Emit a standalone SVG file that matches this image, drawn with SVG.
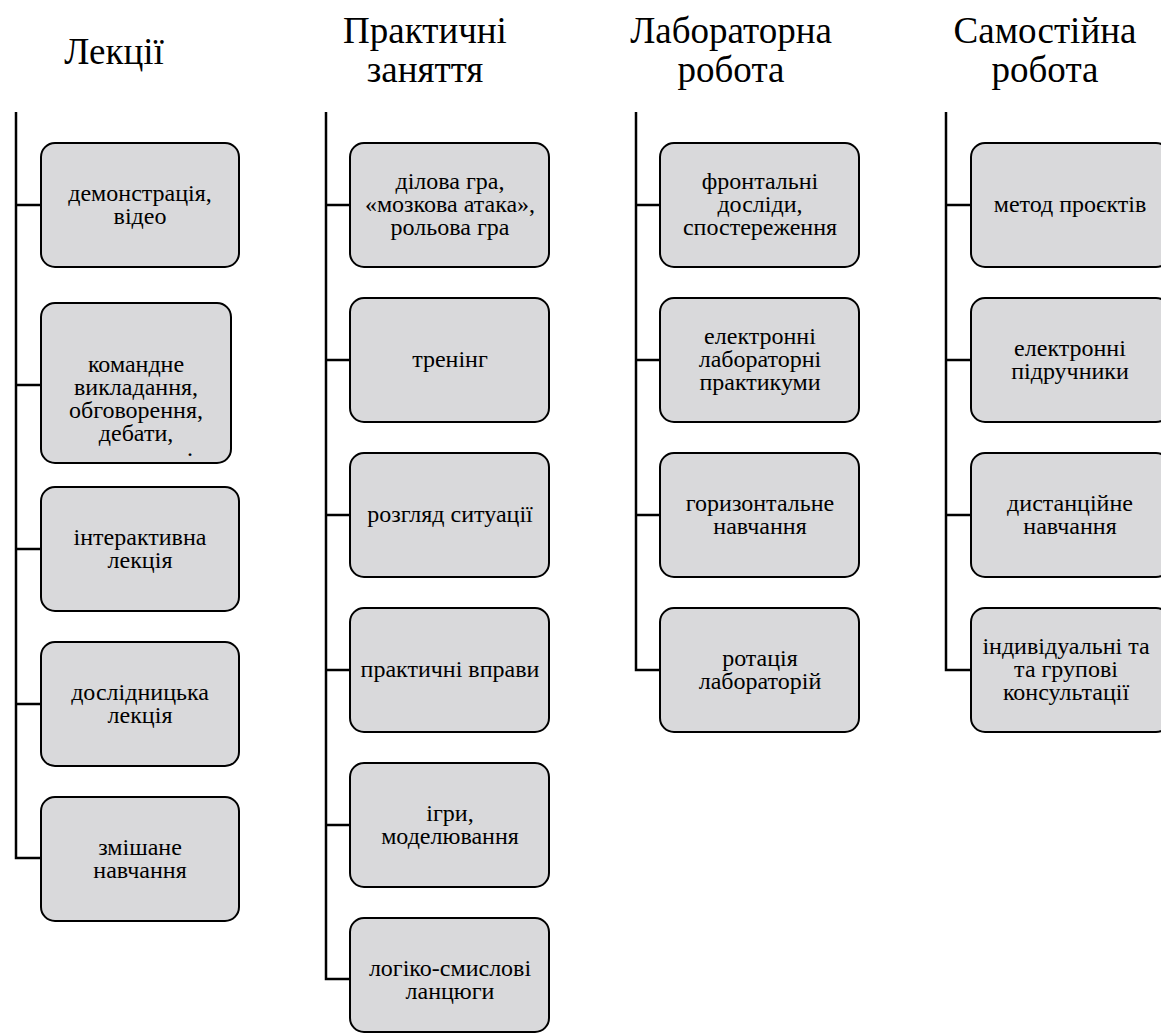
<svg xmlns="http://www.w3.org/2000/svg" width="1161" height="1036" viewBox="0 0 1161 1036">
<style>
.hd{font-family:'Liberation Serif',Tinos,'Times New Roman','DejaVu Serif',serif;font-size:37px;fill:#000;text-anchor:middle}
.bx{fill:#d9d9db;stroke:#000;stroke-width:2}
.tx{font-family:'Liberation Serif',Tinos,'Times New Roman','DejaVu Serif',serif;font-size:24px;fill:#000;text-anchor:middle}
.ln{fill:none;stroke:#000;stroke-width:2.5}
</style>
<rect width="1161" height="1036" fill="#fff"/>
<g id="headers">
<text class="hd" x="114" y="64">Лекції</text>
<text class="hd" x="425" y="43">Практичні</text>
<text class="hd" x="425" y="82">заняття</text>
<text class="hd" x="731" y="43">Лабораторна</text>
<text class="hd" x="731" y="82">робота</text>
<text class="hd" x="1045" y="43">Самостійна</text>
<text class="hd" x="1045" y="82">робота</text>
</g>
<g id="connectors">
<path class="ln" d="M16 112V858H41M16 205H41M16 385H41M16 549H41M16 704H41"/>
<path class="ln" d="M326 112V979H350M326 205H350M326 360H350M326 515H350M326 670H350M326 825H350"/>
<path class="ln" d="M636 112V670H660M636 205H660M636 360H660M636 515H660"/>
<path class="ln" d="M946 112V670H971M946 205H971M946 360H971M946 515H971"/>
</g>
<g id="n1"><rect class="bx" x="41" y="143" width="198" height="124" rx="14"/><text class="tx" x="140" y="201">демонстрація,</text><text class="tx" x="140" y="224">відео</text></g>
<g id="n2"><rect class="bx" x="41" y="303" width="190" height="160" rx="14"/><text class="tx" x="136" y="372">командне</text><text class="tx" x="136" y="395">викладання,</text><text class="tx" x="136" y="418">обговорення,</text><text class="tx" x="136" y="441">дебати,</text><text class="tx" x="190" y="456">.</text></g>
<g id="n3"><rect class="bx" x="41" y="487" width="198" height="124" rx="14"/><text class="tx" x="140" y="545">інтерактивна</text><text class="tx" x="140" y="568">лекція</text></g>
<g id="n4"><rect class="bx" x="41" y="642" width="198" height="124" rx="14"/><text class="tx" x="140" y="700">дослідницька</text><text class="tx" x="140" y="723">лекція</text></g>
<g id="n5"><rect class="bx" x="41" y="797" width="198" height="124" rx="14"/><text class="tx" x="140" y="855">змішане</text><text class="tx" x="140" y="878">навчання</text></g>
<g id="p1"><rect class="bx" x="350" y="143" width="199" height="124" rx="14"/><text class="tx" x="450" y="189">ділова гра,</text><text class="tx" x="450" y="212">«мозкова атака»,</text><text class="tx" x="450" y="235">рольова гра</text></g>
<g id="p2"><rect class="bx" x="350" y="298" width="199" height="124" rx="14"/><text class="tx" x="450" y="367">тренінг</text></g>
<g id="p3"><rect class="bx" x="350" y="453" width="199" height="124" rx="14"/><text class="tx" x="450" y="522">розгляд ситуації</text></g>
<g id="p4"><rect class="bx" x="350" y="608" width="199" height="124" rx="14"/><text class="tx" x="450" y="677">практичні вправи</text></g>
<g id="p5"><rect class="bx" x="350" y="763" width="199" height="124" rx="14"/><text class="tx" x="450" y="821">ігри,</text><text class="tx" x="450" y="844">моделювання</text></g>
<g id="p6"><rect class="bx" x="350" y="918" width="199" height="114" rx="14"/><text class="tx" x="450" y="976">логіко-смислові</text><text class="tx" x="450" y="999">ланцюги</text></g>
<g id="l1"><rect class="bx" x="660" y="143" width="199" height="124" rx="14"/><text class="tx" x="760" y="189">фронтальні</text><text class="tx" x="760" y="212">досліди,</text><text class="tx" x="760" y="235">спостереження</text></g>
<g id="l2"><rect class="bx" x="660" y="298" width="199" height="124" rx="14"/><text class="tx" x="760" y="344">електронні</text><text class="tx" x="760" y="367">лабораторні</text><text class="tx" x="760" y="390">практикуми</text></g>
<g id="l3"><rect class="bx" x="660" y="453" width="199" height="124" rx="14"/><text class="tx" x="760" y="511">горизонтальне</text><text class="tx" x="760" y="534">навчання</text></g>
<g id="l4"><rect class="bx" x="660" y="608" width="199" height="124" rx="14"/><text class="tx" x="760" y="666">ротація</text><text class="tx" x="760" y="689">лабораторій</text></g>
<g id="s1"><rect class="bx" x="971" y="143" width="199" height="124" rx="14"/><text class="tx" x="1070" y="212">метод проєктів</text></g>
<g id="s2"><rect class="bx" x="971" y="298" width="199" height="124" rx="14"/><text class="tx" x="1070" y="356">електронні</text><text class="tx" x="1070" y="379">підручники</text></g>
<g id="s3"><rect class="bx" x="971" y="453" width="199" height="124" rx="14"/><text class="tx" x="1070" y="511">дистанційне</text><text class="tx" x="1070" y="534">навчання</text></g>
<g id="s4"><rect class="bx" x="971" y="608" width="199" height="124" rx="14"/><text class="tx" x="1066" y="654">індивідуальні та</text><text class="tx" x="1066" y="677">та групові</text><text class="tx" x="1066" y="700">консультації</text></g>
</svg>
